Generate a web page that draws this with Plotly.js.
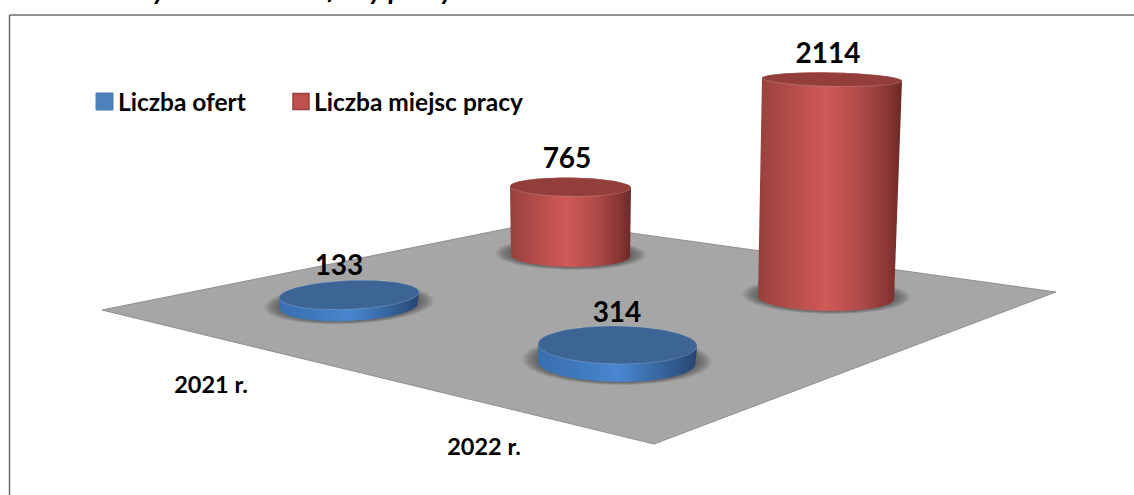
<!DOCTYPE html>
<html lang="pl">
<head>
<meta charset="utf-8">
<script src="https://cdn.plot.ly/plotly-3.0.1.min.js"></script>
<style>html,body{margin:0;padding:0;background:#fff;overflow:hidden}#chart{width:1134px;height:495px}</style>
</head>
<body>
<div id="chart"></div>
<script>
// --- data ---
const years = ['2021 r.', '2022 r.'];
const seriesNames = ['Liczba ofert', 'Liczba miejsc pracy'];
const ofertValues = [133, 314];
const miejscaValues = [765, 2114];
const titleText = 'Wybrane dane: oferty pracy w ramach działań w latach 2021 i 2022';

// --- projected scene geometry (perspective floor, one entry per year) ---
const floorX = [102, 545, 1056, 654];
const floorY = [310, 221, 292, 444];
const ofertGeom = [
  {cx: 349, cy: 306, rx: 69, ry: 15, tx: 349, trx: 70, try_: 14.5, tilt: -0.04, scale: 0.083},
  {cx: 617, cy: 362.5, rx: 79, ry: 19.5, tx: 617.5, trx: 79.5, try_: 19, tilt: 0.012, scale: 0.0557}
];
const miejscaGeom = [
  {cx: 570.5, cy: 256, rx: 59.5, ry: 11, tx: 570.5, trx: 60.5, try_: 9.5, tilt: 0.012, scale: 0.0902},
  {cx: 826, cy: 298, rx: 68, ry: 13, tx: 832, trx: 70, try_: 7, tilt: 0.02, scale: 0.1034}
];
const ofertLabelX = [339, 617], ofertLabelY = [268, 315];
const miejscaLabelX = [567, 828], miejscaLabelY = [161, 56];
const yearLabelX = [211, 484], yearLabelY = [387, 449];
const legendBoxX = [104.5, 301], legendBoxY = 101.5;
const legendTextX = [118, 314], legendTextY = 105;

// --- styles ---
const blueRamp = [[0,'#3a6fae'],[0.25,'#3f78bd'],[0.5,'#4a87d0'],[0.72,'#3a6ca8'],[0.9,'#2f5585'],[1,'#26456d']];
const redRamp = [[0,'#96413e'],[0.2,'#b04b48'],[0.47,'#d05a57'],[0.72,'#ae4a47'],[0.92,'#843432'],[1,'#6b2927']];
const blueTop = '#3c6596', redTop = '#943e3b';
const FONT = 'Lato, Carlito, sans-serif';
const N = 72;

function ell(cx, cy, rx, ry, tilt, a0, a1) {
  const xs = [], ys = [];
  for (let i = 0; i <= N; i++) {
    const t = a0 + (a1 - a0) * i / N;
    xs.push(cx + rx * Math.cos(t));
    ys.push(cy + ry * Math.sin(t) + tilt * rx * Math.cos(t));
  }
  return [xs, ys];
}
function fillTrace(xs, ys, extra) {
  return Object.assign({type: 'scatter', mode: 'lines', x: xs, y: ys, fill: 'toself',
    line: {width: 0}, hoverinfo: 'skip', showlegend: false}, extra);
}
function shadow(g) {
  const out = [];
  const layers = 8;
  for (let i = 0; i < layers; i++) {
    const k = 1 - i / layers;
    const [xs, ys] = ell(g.cx, g.cy - 2, g.rx + 1 + 15 * k, g.ry + 2 + 3 * k, g.tilt, 0, 2 * Math.PI);
    out.push(fillTrace(xs, ys, {fillcolor: 'rgba(50,50,50,0.09)'}));
  }
  return out;
}
function cylinder(value, g, ramp, topColor, name) {
  const topY = g.cy - value * g.scale;
  const [bx, by] = ell(g.cx, g.cy, g.rx, g.ry, g.tilt, 0, Math.PI);
  const [ax, ay] = ell(g.tx, topY, g.trx, g.try_, g.tilt, Math.PI, 2 * Math.PI);
  const body = fillTrace(ax.concat(bx), ay.concat(by), {
    name: name,
    fillcolor: ramp[2][1],
    fillgradient: {type: 'horizontal', colorscale: ramp}
  });
  const [tx, ty] = ell(g.tx, topY, g.trx, g.try_, g.tilt, 0, 2 * Math.PI);
  const top = fillTrace(tx, ty, {fillcolor: topColor, line: {width: 1, color: 'rgba(255,255,255,0.18)'}});
  return [body, top];
}
function textTrace(xs, ys, texts, size, pos) {
  return {type: 'scatter', mode: 'text', x: xs, y: ys, text: texts, textposition: pos || 'middle center',
    textfont: {family: FONT, size: size, color: '#000', weight: 700},
    hoverinfo: 'skip', showlegend: false, cliponaxis: false};
}

const traces = [];
traces.push(fillTrace(floorX.concat(floorX[0]), floorY.concat(floorY[0]),
  {fillcolor: '#a6a6a6', line: {width: 1, color: '#8f8f8f'}}));

// back to front
const order = [
  [miejscaValues[0], miejscaGeom[0], redRamp, redTop, seriesNames[1]],
  [miejscaValues[1], miejscaGeom[1], redRamp, redTop, seriesNames[1]],
  [ofertValues[0], ofertGeom[0], blueRamp, blueTop, seriesNames[0]],
  [ofertValues[1], ofertGeom[1], blueRamp, blueTop, seriesNames[0]]
];
order.forEach(o => {
  traces.push(...shadow(o[1]));
  traces.push(...cylinder(o[0], o[1], o[2], o[3], o[4]));
});

traces.push(textTrace(ofertLabelX, ofertLabelY, ofertValues.map(String), 28));
traces.push(textTrace(miejscaLabelX, miejscaLabelY, miejscaValues.map(String), 28));
traces.push(textTrace(yearLabelX, yearLabelY, years, 23.5));

// legend keys and names
traces.push({type: 'scatter', mode: 'markers', x: [legendBoxX[0]], y: [legendBoxY],
  marker: {symbol: 'square', size: 17, color: '#4f81bd', line: {width: 1, color: '#4a7ab5'}},
  hoverinfo: 'skip', showlegend: false});
traces.push({type: 'scatter', mode: 'markers', x: [legendBoxX[1]], y: [legendBoxY],
  marker: {symbol: 'square', size: 16, color: '#c0504d', line: {width: 1.5, color: '#98413e'}},
  hoverinfo: 'skip', showlegend: false});
traces.push(textTrace([legendTextX[0]], [legendTextY], [seriesNames[0]], 24.5, 'middle right'));
traces.push(textTrace([legendTextX[1]], [legendTextY], [seriesNames[1]], 24.5, 'middle right'));

const layout = {
  width: 1134, height: 495,
  margin: {l: 0, r: 0, t: 0, b: 0, pad: 0},
  paper_bgcolor: '#fff', plot_bgcolor: '#fff',
  showlegend: false,
  xaxis: {range: [0, 1134], visible: false, fixedrange: true},
  yaxis: {range: [495, 0], visible: false, fixedrange: true},
  shapes: [
    {type: 'line', xref: 'paper', yref: 'paper', x0: 9.5/1134, x1: 1, y0: 1 - 15/495, y1: 1 - 15/495, line: {color: '#6b6b6b', width: 1.5}, layer: 'below'},
    {type: 'line', xref: 'paper', yref: 'paper', x0: 9.5/1134, x1: 9.5/1134, y0: 0, y1: 1 - 15/495, line: {color: '#6b6b6b', width: 1.5}, layer: 'below'}
  ],
  annotations: [{
    text: '<b><i>' + titleText + '</i></b>', xref: 'paper', yref: 'paper',
    x: 124/1134, y: 1 + 31/495, xanchor: 'left', yanchor: 'top', showarrow: false,
    font: {family: FONT, size: 28, color: '#000'}
  }]
};
Plotly.newPlot('chart', traces, layout, {displayModeBar: false, staticPlot: true});
</script>
</body>
</html>
